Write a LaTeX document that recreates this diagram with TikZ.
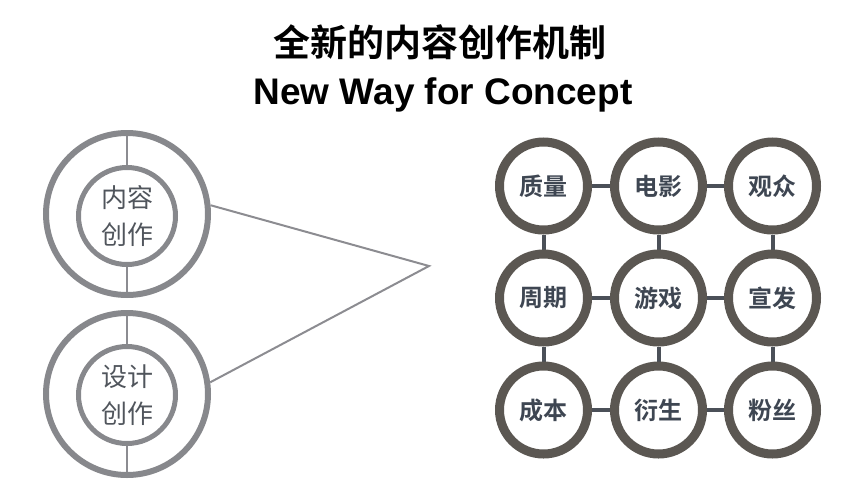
\documentclass[tikz,border=0pt]{standalone}
\usepackage{fontspec}
\setmainfont{Liberation Sans}
\newfontfamily\cjk{Noto Sans CJK SC}
\newfontfamily\cjkbold{Noto Sans CJK SC Bold}
\usetikzlibrary{backgrounds}
\definecolor{leftgray}{HTML}{87888C}
\definecolor{leftline}{HTML}{8C8C91}
\definecolor{lefttext}{HTML}{50555C}
\definecolor{ringdark}{HTML}{5B5752}
\definecolor{griddark}{HTML}{4B5058}
\definecolor{gridtext}{HTML}{3E4652}
\tikzset{
  x=1pt, y=-1pt,
  outerring/.style={circle, draw=leftgray, line width=6pt, minimum size=162pt, inner sep=0pt},
  innerring/.style={circle, draw=leftgray, line width=5pt, minimum size=97pt, inner sep=0pt,
    text=lefttext, align=center, font=\cjk\fontsize{26}{37}\selectfont},
  leftlink/.style={draw=leftline, line width=2pt},
  gridring/.style={circle, draw=ringdark, line width=9pt, minimum size=88pt, inner sep=0pt,
    fill=white, text=gridtext, font=\cjkbold\fontsize{24}{28}\selectfont},
  gridlink/.style={draw=griddark, line width=4pt},
}
\begin{document}
\begin{tikzpicture}
\useasboundingbox (0,0) rectangle (867,498);
% titles
\node[font=\cjkbold\fontsize{37}{40}\selectfont, inner sep=0pt] (t1) at (440,42) {全新的内容创作机制};
\node[font=\bfseries\fontsize{37}{40}\selectfont, inner sep=0pt, anchor=base] (t2) at (443,104) {New Way for Concept};
% left rings
\node[outerring] (o1) at (127,214) {};
\node[innerring] (i1) at (127,216) {内容\\创作};
\node[outerring] (o2) at (127,394) {};
\node[innerring] (i2) at (127,395) {设计\\创作};
\coordinate (apex) at (429,266);
\begin{scope}[on background layer]
  \draw[leftlink] (o1.north) -- (i1.north);
  \draw[leftlink] (i1.south) -- (o1.south);
  \draw[leftlink] (o2.north) -- (i2.north);
  \draw[leftlink] (i2.south) -- (o2.south);
\end{scope}
\draw[leftlink] (o1.6) -- (apex) -- (o2.8);
% grid
\node[gridring] (a1) at (543.5,186) {质量};
\node[gridring] (a2) at (658.5,186) {电影};
\node[gridring] (a3) at (772.5,186) {观众};
\node[gridring] (b1) at (543.5,298) {周期};
\node[gridring] (b2) at (658.5,298) {游戏};
\node[gridring] (b3) at (772.5,298) {宣发};
\node[gridring] (c1) at (543.5,410) {成本};
\node[gridring] (c2) at (658.5,410) {衍生};
\node[gridring] (c3) at (772.5,410) {粉丝};
\begin{scope}[on background layer]
  \draw[gridlink] (a1) -- (a2) -- (a3);
  \draw[gridlink] (b1) -- (b2) -- (b3);
  \draw[gridlink] (c1) -- (c2) -- (c3);
  \draw[gridlink] (a1) -- (b1) -- (c1);
  \draw[gridlink] (a2) -- (b2) -- (c2);
  \draw[gridlink] (a3) -- (b3) -- (c3);
\end{scope}
\end{tikzpicture}
\end{document}
